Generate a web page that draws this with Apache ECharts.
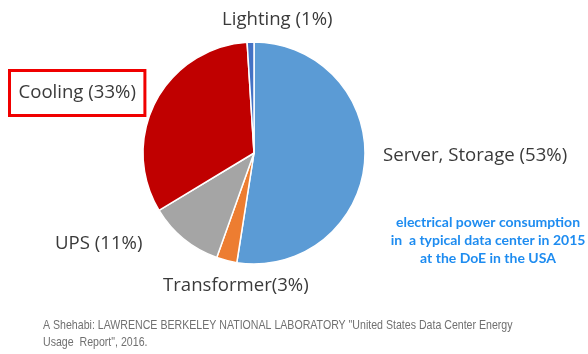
<!DOCTYPE html>
<html>
<head>
<meta charset="utf-8">
<script src="https://cdn.jsdelivr.net/npm/echarts@6/dist/echarts.min.js"></script>
<style>
html,body{margin:0;padding:0;background:#fff;}
#c{width:588px;height:354px;}
</style>
</head>
<body>
<div id="c"></div>
<script>
// ---- data ----
const categories = ['Server, Storage', 'Transformer', 'UPS', 'Cooling', 'Lighting'];
const values = [53, 3, 11, 33, 1];
const labelTexts = ['Server, Storage (53%)', 'Transformer(3%)', 'UPS (11%)', 'Cooling (33%)', 'Lighting (1%)'];
const noteLines = ['electrical power consumption', 'in  a typical data center in 2015', 'at the DoE in the USA'];
const sourceLines = ['A Shehabi: LAWRENCE BERKELEY NATIONAL LABORATORY "United States Data Center Energy', 'Usage  Report", 2016.'];

// ---- styles ----
const colors = ['#5B9BD5', '#ED7D31', '#A5A5A5', '#C00000', '#4472C4'];
const labelPos = [
  {x: 383, y: 156},
  {x: 163, y: 286},
  {x: 55, y: 244},
  {x: 9.5, y: 93},
  {x: 222, y: 20}
];

const chart = echarts.init(document.getElementById('c'));
const data = categories.map((n, i) => {
  const d = {name: n, value: values[i], itemStyle: {color: colors[i]}};
  if (n === 'Cooling') {
    d.label = {borderColor: '#F00000', borderWidth: 3, padding: [13, 9, 13, 9]};
  }
  return d;
});

chart.setOption({
  animation: false,
  backgroundColor: '#fff',
  series: [{
    type: 'pie',
    center: [254, 153],
    radius: 111,
    startAngle: 90,
    clockwise: true,
    avoidLabelOverlap: false,
    itemStyle: {borderColor: '#fff', borderWidth: 1.5},
    label: {
      show: true,
      position: 'outside',
      formatter: p => labelTexts[p.dataIndex],
      fontFamily: 'Open Sans',
      fontSize: 18.6,
      color: '#3a3a3a'
    },
    labelLine: {show: false},
    labelLayout: p => ({x: labelPos[p.dataIndex].x, y: labelPos[p.dataIndex].y, align: 'left', verticalAlign: 'middle'}),
    emphasis: {disabled: true},
    data: data
  }],
  graphic: [
    {
      type: 'text', x: 488, y: 213,
      style: {
        text: noteLines.join('\n'), textAlign: 'center', textVerticalAlign: 'top',
        font: 'bold 14px Lato', lineHeight: 18, fill: '#1E8CF0'
      }
    },
    {
      type: 'text', x: 43, y: 317, scaleX: 0.815,
      style: {
        text: sourceLines.join('\n'), textAlign: 'left', textVerticalAlign: 'top',
        font: '13px "Liberation Sans"', lineHeight: 17, fill: '#707070'
      }
    }
  ]
});
</script>
</body>
</html>
